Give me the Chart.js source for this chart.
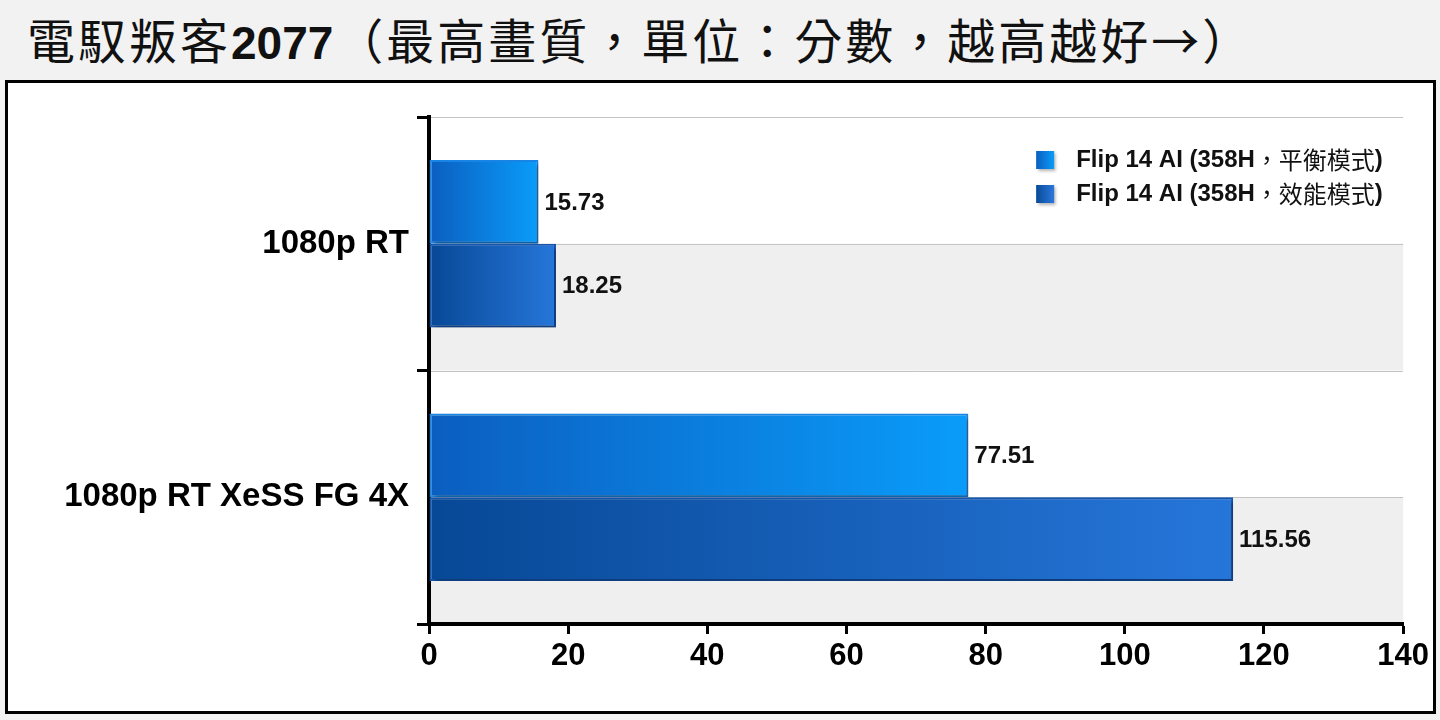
<!DOCTYPE html>
<html>
<head>
<meta charset="utf-8">
<script src="https://cdn.jsdelivr.net/npm/chart.js@4.4.1/dist/chart.umd.min.js"></script>
<style>
  body {
    margin: 0;
    width: 1440px;
    height: 720px;
    background: #f2f2f2;
    overflow: hidden;
    font-family: "Liberation Sans", Arial, sans-serif;
  }
  #title {
    position: absolute;
    left: 27px;
    top: 0;
    height: 78px;
    line-height: 76px;
    font-size: 48px;
    letter-spacing: 3px;
    color: #111;
    white-space: nowrap;
    font-family: "Noto Sans CJK TC", sans-serif;
  }
  #title b {
    font-family: "Liberation Sans", Arial, sans-serif;
    font-weight: bold;
    font-size: 46px;
    letter-spacing: 0;
    margin-right: 2px;
  }
  #box {
    position: absolute;
    left: 5px;
    top: 80px;
    width: 1425px;
    height: 628px;
    border: 3px solid #000;
    background: #fff;
  }
</style>
</head>
<body>
<div id="title">電馭叛客<b>2077</b>（最高畫質，單位：分數，越高越好→）</div>
<div id="box"><canvas id="chart" width="1425" height="628"></canvas></div>

<script>
const categories = ["1080p RT", "1080p RT XeSS FG 4X"];
const seriesNames = ["Flip 14 AI (358H，平衡模式)", "Flip 14 AI (358H，效能模式)"];
const balancedScores = [15.73, 77.51];
const performanceScores = [18.25, 115.56];
const xTicks = [0, 20, 40, 60, 80, 100, 120, 140];

const latinFont = '"Liberation Sans", Arial, sans-serif';
const cjkFont = '"Noto Sans CJK TC", sans-serif';

function barFill(dark, light) {
  return (context) => {
    const chart = context.chart;
    const x = chart.scales.x;
    if (!chart.chartArea || !x || context.raw == null) return light;
    const x0 = x.getPixelForValue(0);
    const x1 = x.getPixelForValue(context.raw);
    const g = chart.ctx.createLinearGradient(x0, 0, x1, 0);
    g.addColorStop(0, dark);
    g.addColorStop(1, light);
    return g;
  };
}

// draw a string as runs: latin bold, cjk regular
function drawRuns(ctx, text, x, y, size) {
  const runs = text.match(/[\u3000-\u9fff\uff00-\uffef]+|[^\u3000-\u9fff\uff00-\uffef]+/g);
  runs.forEach((run) => {
    const cjk = /[\u3000-\u9fff\uff00-\uffef]/.test(run);
    ctx.font = cjk ? `400 ${size}px ${cjkFont}` : `bold ${size}px ${latinFont}`;
    ctx.fillText(run, x, y);
    x += ctx.measureText(run).width;
  });
}

const chartDecor = {
  id: "chartDecor",
  beforeDraw(chart) {
    const { ctx, chartArea, scales } = chart;
    const y = scales.y;
    ctx.save();
    categories.forEach((c, i) => {
      const mid = y.getPixelForValue(i);
      const bottom = y.getPixelForValue(i + 0.5);
      ctx.fillStyle = "#efefef";
      ctx.fillRect(chartArea.left, mid, chartArea.right - chartArea.left, bottom - mid);
    });
    ctx.strokeStyle = "#c4c4c4";
    ctx.lineWidth = 1;
    for (let v = -0.5; v <= categories.length - 0.5; v += 0.5) {
      const py = Math.round(y.getPixelForValue(v)) + 0.5;
      ctx.beginPath();
      ctx.moveTo(chartArea.left, py);
      ctx.lineTo(chartArea.right, py);
      ctx.stroke();
    }
    ctx.restore();
  },
  beforeDatasetsDraw(chart) {
    const ctx = chart.ctx;
    ctx.save();
    ctx.shadowColor = "rgba(0,0,0,0.35)";
    ctx.shadowOffsetX = 3;
    ctx.shadowOffsetY = 3;
    ctx.shadowBlur = 4;
  },
  afterDatasetsDraw(chart) {
    const { ctx, chartArea } = chart;
    ctx.restore();

    // value labels
    ctx.save();
    ctx.fillStyle = "#111";
    ctx.font = `bold 24px ${latinFont}`;
    ctx.textBaseline = "middle";
    chart.data.datasets.forEach((ds, di) => {
      chart.getDatasetMeta(di).data.forEach((el, i) => {
        ctx.fillText(ds.data[i].toFixed(2), el.x + 6, el.y + 1);
      });
    });
    ctx.restore();

    // legend
    ctx.save();
    const colors = [["#0b5fc0", "#0a9bf8"], ["#084a98", "#2a78dc"]];
    seriesNames.forEach((name, i) => {
      const sx = chartArea.right - 367;
      const sy = chartArea.top + 34 + i * 34;
      ctx.save();
      ctx.shadowColor = "rgba(0,0,0,0.3)";
      ctx.shadowOffsetX = 2;
      ctx.shadowOffsetY = 2;
      ctx.shadowBlur = 3;
      const g = ctx.createLinearGradient(sx, 0, sx + 18, 0);
      g.addColorStop(0, colors[i][0]);
      g.addColorStop(1, colors[i][1]);
      ctx.fillStyle = g;
      ctx.fillRect(sx, sy, 18, 18);
      ctx.restore();
      ctx.fillStyle = "#111";
      ctx.textBaseline = "middle";
      drawRuns(ctx, name, chartArea.right - 327, sy + 9, 24);
    });
    ctx.restore();
  }
};

new Chart(document.getElementById("chart"), {
  type: "bar",
  data: {
    labels: categories,
    datasets: [
      {
        label: seriesNames[0],
        data: balancedScores,
        backgroundColor: barFill("#0b5ec0", "#0a9cfa"),
        borderColor: "#1786e6",
        borderWidth: 2,
        borderSkipped: false,
        categoryPercentage: 0.66,
        barPercentage: 1.0
      },
      {
        label: seriesNames[1],
        data: performanceScores,
        backgroundColor: barFill("#074896", "#2676da"),
        borderColor: "#1455b0",
        borderWidth: 2,
        borderSkipped: false,
        categoryPercentage: 0.66,
        barPercentage: 1.0
      }
    ]
  },
  options: {
    indexAxis: "y",
    responsive: false,
    animation: false,
    layout: {
      padding: { top: 34, right: 29, left: 0, bottom: 0 }
    },
    plugins: {
      legend: { display: false },
      tooltip: { enabled: false }
    },
    scales: {
      x: {
        min: 0,
        max: 140,
        afterBuildTicks: (scale) => {
          scale.ticks = xTicks.map((v) => ({ value: v }));
        },
        afterFit: (scale) => {
          scale.height = 87;
        },
        grid: {
          drawOnChartArea: false,
          tickLength: 10,
          tickColor: "#000",
          tickWidth: 3
        },
        border: { color: "#000", width: 4 },
        ticks: {
          color: "#000",
          padding: 4,
          font: { family: latinFont, size: 31, weight: "bold" }
        }
      },
      y: {
        afterFit: (scale) => {
          scale.width = 421;
        },
        grid: {
          offset: true,
          drawOnChartArea: false,
          tickLength: 12,
          tickColor: "#000",
          tickWidth: 3
        },
        border: { color: "#000", width: 4 },
        ticks: {
          color: "#000",
          padding: 8,
          font: { family: latinFont, size: 33, weight: "bold" }
        }
      }
    }
  },
  plugins: [chartDecor]
});
</script>
</body>
</html>
